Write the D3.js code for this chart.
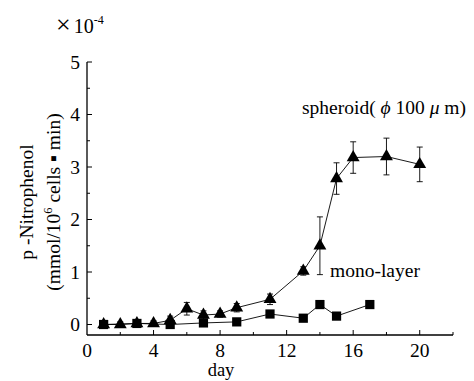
<!DOCTYPE html>
<html><head><meta charset="utf-8">
<script src="https://cdn.jsdelivr.net/npm/d3@7"></script>
<style>body{margin:0;background:#fff}svg{display:block}text{fill:#000}</style>
</head><body><svg id="c" width="474" height="381"></svg>
<script>
const spheroidDays = [1,2,3,4,5,6,7,8,9,11,13,14,15,16,18,20];
const spheroidVals = [0.0,0.0,0.02,0.02,0.08,0.3,0.18,0.2,0.32,0.48,1.02,1.5,2.78,3.18,3.2,3.05];
const spheroidErr  = [0.05,0.05,0.05,0.05,0.08,0.12,0.08,0.06,0.08,0.1,0.08,0.55,0.3,0.3,0.35,0.33];
const monoDays = [1,3,5,7,9,11,13,14,15,17];
const monoVals = [0.0,0.02,0.0,0.03,0.05,0.2,0.12,0.38,0.16,0.38];
const monoErr  = [0.04,0.03,0.04,0.04,0.03,0.05,0.03,0.06,0.03,0.03];
const xTicks = [0,4,8,12,16,20];
const yTicks = [0,1,2,3,4,5];

const FONT = "'Liberation Serif', 'Times New Roman', Times, serif";
const svg = d3.select("#c").style("font-family", FONT);
const x = d3.scaleLinear().domain([0,22]).range([87,453]);
const y = d3.scaleLinear().domain([-0.2,5]).range([335,62]);

// axes
const g = svg.append("g");
g.append("line").attr("x1",87).attr("x2",87).attr("y1",y(5)).attr("y2",335).attr("stroke","#000").attr("stroke-width",1.3);
g.append("line").attr("x1",87).attr("x2",453).attr("y1",335).attr("y2",335).attr("stroke","#000").attr("stroke-width",1.3);
d3.range(0,5.01,0.5).forEach(v=>{
  const major = Math.abs(v-Math.round(v))<1e-6;
  g.append("line").attr("x1",87).attr("x2",87+(major?5:3)).attr("y1",y(v)).attr("y2",y(v)).attr("stroke","#000");
});
d3.range(2,22.01,2).forEach(v=>{
  const major = v%4===0;
  g.append("line").attr("x1",x(v)).attr("x2",x(v)).attr("y1",335).attr("y2",335-(major?5:3)).attr("stroke","#000");
});
g.selectAll(".yt").data(yTicks).join("text").attr("x",80).attr("y",d=>y(d)+6.5).attr("text-anchor","end").attr("font-size",19.5).text(d=>d);
g.selectAll(".xt").data(xTicks).join("text").attr("x",d=>x(d)).attr("y",357).attr("text-anchor","middle").attr("font-size",19.5).text(d=>d);
svg.append("text").attr("x",221).attr("y",376).attr("text-anchor","middle").attr("font-size",18.5).text("day");

// multiplier
const m = svg.append("text").attr("x",56).attr("y",33).attr("font-size",20);
m.append("tspan").attr("font-size",26).text("×");
m.append("tspan").attr("dx",3).text("10");
m.append("tspan").attr("dy",-9).attr("font-size",12).text("-4");

// y label
const yl = svg.append("g").attr("transform","translate(33,202) rotate(-90)");
yl.append("text").attr("text-anchor","middle").attr("font-size",19.5).text("p -Nitrophenol");
const yl2 = yl.append("text").attr("y",27).attr("text-anchor","middle").attr("font-size",19.5);
yl2.append("tspan").text("(mmol/10");
yl2.append("tspan").attr("dy",-8).attr("font-size",12.5).text("6");
yl2.append("tspan").attr("dy",8).text(" cells ▪ min)");

// series
function series(days, vals, errs, shape){
  const pts = days.map((d,i)=>({d, v:vals[i], e:errs[i]}));
  svg.append("path").attr("d",d3.line().x(p=>x(p.d)).y(p=>y(p.v))(pts)).attr("fill","none").attr("stroke","#000").attr("stroke-width",0.9);
  pts.forEach(p=>{
    const cx=x(p.d), t=y(p.v+p.e), b=y(p.v-p.e);
    svg.append("line").attr("x1",cx).attr("x2",cx).attr("y1",t).attr("y2",b).attr("stroke","#000").attr("stroke-width",0.9);
    [t,b].forEach(yy=>svg.append("line").attr("x1",cx-3).attr("x2",cx+3).attr("y1",yy).attr("y2",yy).attr("stroke","#000").attr("stroke-width",0.9));
  });
  svg.selectAll(null).data(pts).join("path")
    .attr("transform",p=>`translate(${x(p.d)},${y(p.v)})`)
    .attr("d",d3.symbol().type(shape).size(shape===d3.symbolSquare?85:72))
    .attr("fill","#000");
}
series(monoDays, monoVals, monoErr, d3.symbolSquare);
series(spheroidDays, spheroidVals, spheroidErr, d3.symbolTriangle);

// labels
const sl = svg.append("text").attr("x",302).attr("y",114).attr("font-size",19.5);
sl.append("tspan").text("spheroid( ");
sl.append("tspan").attr("font-style","italic").text("ϕ");
sl.append("tspan").text(" 100 ");
sl.append("tspan").attr("font-style","italic").text("μ");
sl.append("tspan").text(" m)");
svg.append("text").attr("x",330).attr("y",277).attr("font-size",19.5).text("mono-layer");
</script></body></html>
